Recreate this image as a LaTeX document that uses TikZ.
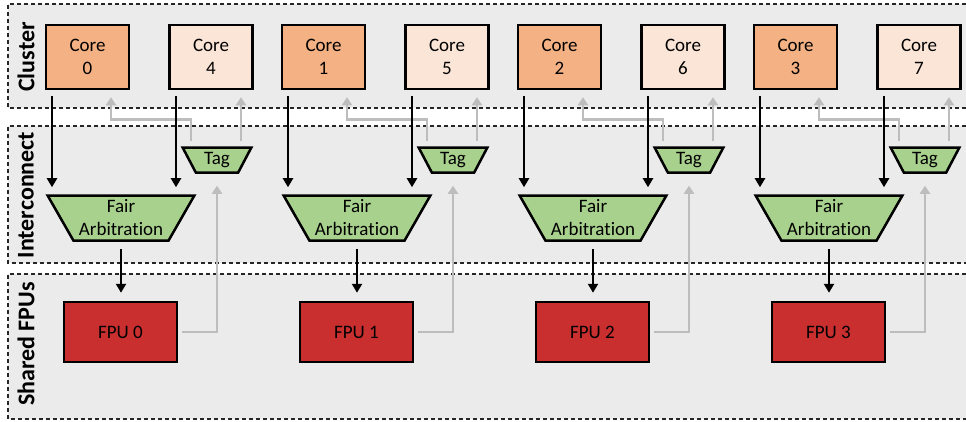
\documentclass[tikz,border=0pt]{standalone}
\usepackage{fontspec}
\setmainfont{Carlito}[Ligatures=NoCommon]
\usetikzlibrary{arrows.meta,shapes.geometric}

\definecolor{bandgray}{HTML}{EBEBEB}
\definecolor{coredark}{HTML}{F4B183}
\definecolor{corelight}{HTML}{FBE5D6}
\definecolor{arbgreen}{HTML}{A9D18E}
\definecolor{fpured}{HTML}{C92F2F}
\definecolor{backgray}{HTML}{BDBDBD}

\tikzset{
  band/.style={fill=bandgray},
  bandedge/.style={draw=black!85, line width=1.4pt, dash pattern=on 4pt off 3pt},
  bandlabel/.style={rotate=90, font=\bfseries\fontsize{24}{28}\selectfont},
  corebox/.style={draw=black, line width=2.5pt, minimum width=83pt, minimum height=64pt,
    inner sep=0pt, align=center, font=\fontsize{19}{23}\selectfont},
  coreA/.style={corebox, fill=coredark},
  coreB/.style={corebox, fill=corelight},
  trap/.style={trapezium, trapezium stretches=true, shape border rotate=180,
    draw=black, line width=2.5pt, fill=arbgreen, inner sep=0pt, align=center,
    font=\fontsize{19}{23}\selectfont},
  tagbox/.style={trap, minimum width=69pt, minimum height=25pt,
    trapezium left angle=62.6, trapezium right angle=62.6},
  arbbox/.style={trap, minimum width=147pt, minimum height=45pt,
    trapezium left angle=57.8, trapezium right angle=57.8},
  fpubox/.style={draw=black, line width=2.5pt, fill=fpured, minimum width=113pt,
    minimum height=60pt, inner sep=0pt, font=\fontsize{19}{23}\selectfont},
  req/.style={draw=black, line width=2.5pt, -{Triangle[length=9pt,width=10pt]}},
  resp/.style={draw=backgray, line width=2.5pt, -{Triangle[length=8pt,width=10pt]}},
}

\begin{document}
\begin{tikzpicture}[x=1pt, y=-1pt]
\useasboundingbox (0,0) rectangle (966,421);

% three horizontal bands, open on the right
\foreach \top/\bot in {4/108, 126/263, 274/419} {
  \fill[band] (8,\top) rectangle (966,\bot);
  \draw[bandedge] (966,\top) -- (8,\top) -- (8,\bot) -- (966,\bot);
}

\node[bandlabel] (lblcluster) at (26,57) {Cluster};
\node[bandlabel] (lblinter) at (26,195) {Interconnect};
\node[bandlabel] (lblfpu) at (26,344) {Shared FPUs};

% four sharing groups: two cores, tag unit, arbiter, FPU
\foreach \g/\a/\b in {0/0/4, 1/1/5, 2/2/6, 3/3/7} {
  \pgfmathsetmacro{\dx}{236*\g}
  \node[coreA] (cA\g) at (87.5+\dx,57) {Core\\\a};
  \node[coreB] (cB\g) at (211+\dx,57) {Core\\\b};
  \node[tagbox] (tag\g) at (217+\dx,160) {Tag};
  \node[arbbox] (arb\g) at (121+\dx,218) {Fair\\Arbitration};
  \node[fpubox] (fpu\g) at (120.5+\dx,332) {FPU \g};
}

% responses back to the cores
\foreach \g in {0,1,2,3} {
  \draw[resp, shorten <=5pt, shorten >=7pt]
    ([xshift=-26pt]tag\g.north) |- ([xshift=23.5pt,yshift=-29pt]cA\g.south)
    -- ([xshift=23.5pt]cA\g.south);
  \draw[resp, shorten <=5pt, shorten >=7pt]
    ([xshift=24pt]tag\g.north) -- ([xshift=24pt]tag\g.north |- cB\g.south);
  \draw[resp, shorten <=4pt, shorten >=12pt] (fpu\g.east) -| (tag\g.south);
}

% requests into the arbiters and on to the FPUs
\foreach \g in {0,1,2,3} {
  \draw[req, shorten <=6pt, shorten >=7pt]
    ([xshift=-35.5pt]cA\g.south) -- ([xshift=-35.5pt]cA\g.south |- arb\g.north);
  \draw[req, shorten <=6pt, shorten >=7pt]
    ([xshift=-35pt]cB\g.south) -- ([xshift=-35pt]cB\g.south |- arb\g.north);
  \draw[req, shorten <=7pt, shorten >=8pt]
    (arb\g.south) -- (arb\g.south |- fpu\g.north);
}
\end{tikzpicture}
\end{document}
